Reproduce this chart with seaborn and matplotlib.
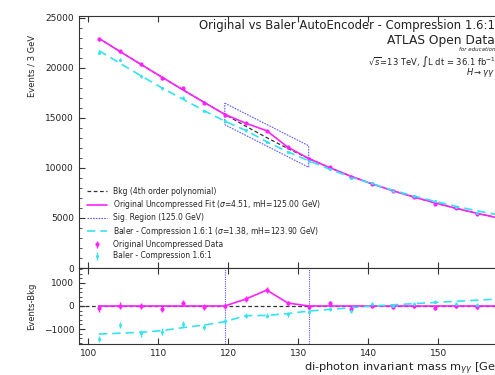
import numpy as np
import pandas as pd
import matplotlib
matplotlib.use("Agg")
import matplotlib.pyplot as plt
from matplotlib.ticker import AutoMinorLocator, MultipleLocator
import seaborn as sns

# ---- data ----
bin_centers = [101.5, 104.5, 107.5, 110.5, 113.5, 116.5, 119.5, 122.5, 125.5, 128.5,
               131.5, 134.5, 137.5, 140.5, 143.5, 146.5, 149.5, 152.5, 155.5, 158.5]
bkg = [22915, 21615, 20325, 19050, 17790, 16550, 15335, 14150, 13010, 11930,
       10930, 10010, 9170, 8410, 7720, 7090, 6510, 5970, 5470, 5010]
orig_data = [22815, 21635, 20325, 18920, 17930, 16490, 15315, 14450, 13700, 12050,
             10870, 10130, 9040, 8420, 7660, 7100, 6410, 5980, 5410, 4990]
orig_fit = [22915, 21615, 20325, 19050, 17790, 16550, 15335, 14450, 13700, 12060,
            10930, 10010, 9170, 8410, 7720, 7090, 6510, 5970, 5470, 5010]
baler_data = [21480, 20785, 19135, 17940, 17010, 15650, 14675, 13730, 12590, 11580,
              10680, 9870, 8970, 8500, 7720, 7180, 6700, 6060, 5520, 5260]
baler_fit = [21695, 20435, 19185, 17980, 16850, 15720, 14655, 13730, 12600, 11600,
             10710, 9860, 9090, 8410, 7770, 7190, 6660, 6170, 5720, 5310]
sig_bounds = [119.5, 131.5]
sig_box_upper = [16450, 12200]
sig_box_lower = [14300, 10050]

MAG = "#ff22ff"
CYA = "#33e4f0"

df = pd.DataFrame({
    "x": bin_centers, "bkg": bkg, "orig": orig_data, "orig_fit": orig_fit,
    "baler": baler_data, "baler_fit": baler_fit,
})
df["orig_err"] = np.sqrt(df["orig"])
df["baler_err"] = np.sqrt(df["baler"])

sns.set_style("ticks")
plt.rcParams["font.family"] = ["DejaVu Sans"]
plt.rcParams["axes.edgecolor"] = "#333333"

fig = plt.figure(figsize=(4.95, 3.75), dpi=100)
ax = fig.add_axes([0.1596, 0.2853, 0.8667, 0.672])
axr = fig.add_axes([0.1596, 0.0827, 0.8667, 0.2027], sharex=ax)

# ---- top panel ----
sns.lineplot(data=df, x="x", y="bkg", ax=ax, color="#333333", lw=0.9,
             linestyle=(0, (3, 2)), label="Bkg (4th order polynomial)", zorder=1)
sns.lineplot(data=df, x="x", y="orig_fit", ax=ax, color=MAG, lw=1.2,
             label="Original Uncompressed Fit ($\\sigma$=4.51, mH=125.00 GeV)", zorder=2)
box_x = [sig_bounds[0], sig_bounds[1], sig_bounds[1], sig_bounds[0], sig_bounds[0]]
box_y = [sig_box_upper[0], sig_box_upper[1], sig_box_lower[1], sig_box_lower[0], sig_box_upper[0]]
ax.plot(box_x, box_y, color="#4040ff", lw=0.8, linestyle=(0, (1.5, 1)), alpha=0.85,
        label="Sig. Region (125.0 GeV)")
sns.lineplot(data=df, x="x", y="baler_fit", ax=ax, color=CYA, lw=1.2,
             linestyle=(0, (5, 3)),
             label="Baler - Compression 1.6:1 ($\\sigma$=1.38, mH=123.90 GeV)", zorder=2)
ax.errorbar(df["x"], df["orig"], yerr=df["orig_err"], fmt="o", ms=2.0, color=MAG,
            elinewidth=1, capsize=0, label="Original Uncompressed Data", zorder=4)
ax.errorbar(df["x"], df["baler"], yerr=df["baler_err"], fmt="o", ms=1.2, color=CYA,
            elinewidth=1, capsize=0, label="Baler - Compression 1.6:1", zorder=4)

ax.set_xlim(98.65, 160)
ax.set_ylim(0, 25150)
ax.yaxis.set_major_locator(MultipleLocator(5000))
ax.yaxis.set_minor_locator(AutoMinorLocator(5))
ax.set_xlabel("")
ax.set_ylabel("Events / 3 GeV", fontsize=6)
ax.yaxis.set_label_coords(-0.1, 0.925)
ax.yaxis.label.set_horizontalalignment("right")
ax.tick_params(axis="both", which="both", direction="in", top=True, right=True,
               labelsize=6.5, colors="#333333", labelcolor="#222222")
ax.tick_params(which="major", length=4)
ax.tick_params(which="minor", length=2)
ax.tick_params(axis="x", labelbottom=False)

ax.legend(loc="lower left", bbox_to_anchor=(0.0, 0.0), frameon=False, fontsize=5.5,
          handlelength=2.6, labelspacing=0.3, borderaxespad=0.6, handletextpad=0.8)

tx = 0.97
ax.text(tx, 0.964, "Original vs Baler AutoEncoder - Compression 1.6:1", transform=ax.transAxes,
        ha="right", va="center", fontsize=8.4, color="#222222")
ax.text(tx, 0.901, "ATLAS Open Data", transform=ax.transAxes, ha="right", va="center",
        fontsize=8.8, color="#222222")
ax.text(tx, 0.866, "for education", transform=ax.transAxes, ha="right", va="center",
        fontsize=4, style="italic", color="#222222")
ax.text(tx, 0.818, r"$\sqrt{s}$=13 TeV, $\int$L dt = 36.1 fb$^{-1}$", transform=ax.transAxes,
        ha="right", va="center", fontsize=6, color="#222222")
ax.text(tx, 0.776, r"$H \rightarrow \gamma\gamma$", transform=ax.transAxes, ha="right",
        va="center", fontsize=6, color="#222222")

# ---- residual panel ----
axr.axhline(0, color="#333333", lw=0.9, linestyle=(0, (3, 2)), zorder=1)
for b in sig_bounds:
    axr.axvline(b, color="#4040ff", lw=0.8, linestyle=(0, (1, 1)), alpha=0.9)
df["orig_res"] = df["orig"] - df["bkg"]
df["orig_fit_res"] = df["orig_fit"] - df["bkg"]
df["baler_res"] = df["baler"] - df["bkg"]
df["baler_fit_res"] = df["baler_fit"] - df["bkg"]
sns.lineplot(data=df, x="x", y="orig_fit_res", ax=axr, color=MAG, lw=1.2, zorder=2)
sns.lineplot(data=df, x="x", y="baler_fit_res", ax=axr, color=CYA, lw=1.2,
             linestyle=(0, (5, 3)), zorder=2)
axr.errorbar(df["x"], df["orig_res"], yerr=df["orig_err"], fmt="o", ms=2.0, color=MAG,
             elinewidth=1, capsize=0, zorder=4)
axr.errorbar(df["x"], df["baler_res"], yerr=df["baler_err"], fmt="o", ms=1.2, color=CYA,
             elinewidth=1, capsize=0, zorder=4)
axr.set_ylim(-1650, 1650)
axr.yaxis.set_major_locator(MultipleLocator(1000))
axr.yaxis.set_minor_locator(AutoMinorLocator(5))
axr.xaxis.set_major_locator(MultipleLocator(10))
axr.set_ylabel("Events-Bkg", fontsize=6)
axr.yaxis.set_label_coords(-0.1, 0.5)
axr.set_xlabel("di-photon invariant mass m$_{\\gamma\\gamma}$ [GeV]", fontsize=8.2,
               loc="right", color="#222222", labelpad=2)
axr.tick_params(axis="both", which="both", direction="in", top=True, right=True,
                labelsize=6.5, colors="#333333", labelcolor="#222222")
axr.tick_params(which="major", length=4)
axr.tick_params(which="minor", length=2)
axr.tick_params(axis="x", which="minor", length=0)
ax.tick_params(axis="x", which="minor", length=0)

fig.savefig("out.png", dpi=100)
